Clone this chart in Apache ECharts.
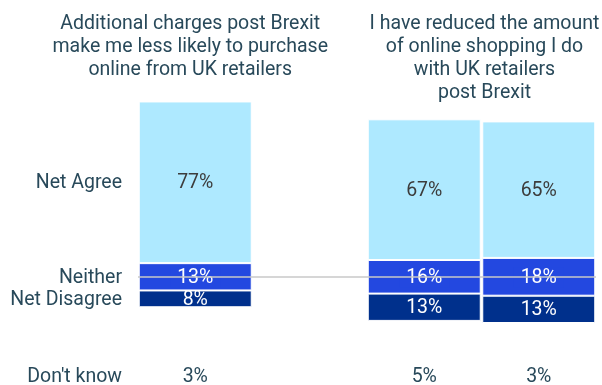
<!DOCTYPE html>
<html>
<head>
<meta charset="utf-8">
<script src="https://cdn.jsdelivr.net/npm/echarts@6/dist/echarts.min.js"></script>
<style>
  html, body { margin: 0; padding: 0; background: #ffffff; }
  #chart { width: 602px; height: 385px; }
</style>
</head>
<body>
<div id="chart"></div>
<script>
// Statement columns (the second slot is an empty spacer between the two groups)
const bars = ['charges', 'spacer', 'reduced-a', 'reduced-b'];
const netAgree = [77, null, 67, 65];
const neither = [13, null, 16, 18];
const netDisagree = [8, null, 13, 13];
const dontKnow = [3, null, 5, 3];
const rowLabels = ['Net Agree', 'Neither', 'Net Disagree', "Don't know"];
const groupTitles = [
  'Additional charges post Brexit\nmake me less likely to purchase\nonline from UK retailers',
  'I have reduced the amount\nof online shopping I do\nwith UK retailers\npost Brexit'
];

// Every bar is centred on the middle of its "Neither" segment at this value
const MID = 100;
const Y_MIN = 60;
const Y_MAX = 200;

const FONT = 'Roboto, "Open Sans", sans-serif';
const FS = 19.5;
const NUDGE = 1; // small downward shift so glyphs sit on the segment centres
const TEXT = '#28495a';
const C_AGREE = '#aee9ff';
const C_NEITHER = '#2348e0';
const C_DISAGREE = '#00308c';

const blank = v => (v == null ? '-' : v);
const baseVals = bars.map((_, i) => neither[i] == null ? '-' : MID - neither[i] / 2 - netDisagree[i]);
const lblBaseVals = bars.map((_, i) => neither[i] == null ? '-' : MID - neither[i] / 2);
const pct = p => p.value + '%';

const chart = echarts.init(document.getElementById('chart'), null, { renderer: 'canvas' });

const common = {
  type: 'bar',
  barWidth: 113,
  barGap: '-100%',
  silent: true,
  itemStyle: { borderColor: '#ffffff', borderWidth: 1 }
};
const valueLabel = (color, extra) => Object.assign({
  show: true, position: 'inside', formatter: pct,
  color: color, fontFamily: FONT, fontSize: FS, offset: [0, NUDGE]
}, extra || {});

chart.setOption({
  animation: false,
  grid: { left: 138, right: 6, top: 66.8, bottom: 24.2, containLabel: false, outerBoundsMode: 'none' },
  xAxis: {
    type: 'category',
    data: bars,
    axisLine: { show: false },
    axisTick: { show: false },
    axisLabel: {
      margin: 6,
      fontFamily: FONT,
      fontSize: FS,
      color: TEXT,
      formatter: (v, i) => dontKnow[i] == null ? '' : dontKnow[i] + '%'
    }
  },
  yAxis: { type: 'value', min: Y_MIN, max: Y_MAX, show: false },
  series: [
    Object.assign({}, common, {
      name: 'base', stack: 'm', z: 3,
      data: baseVals,
      itemStyle: { color: 'transparent', borderWidth: 0 },
      markLine: {
        silent: true,
        symbol: 'none',
        label: { show: false },
        lineStyle: { color: '#c8c8c8', width: 1.5, type: 'solid' },
        data: [{ yAxis: MID }]
      }
    }),
    Object.assign({}, common, {
      name: 'Net Disagree', stack: 'm', z: 2,
      data: netDisagree.map(blank),
      itemStyle: { color: C_DISAGREE, borderColor: '#ffffff', borderWidth: 1 },
      label: valueLabel('#ffffff')
    }),
    Object.assign({}, common, {
      name: 'Neither', stack: 'm', z: 2,
      data: neither.map(blank),
      itemStyle: { color: C_NEITHER, borderColor: '#ffffff', borderWidth: 1 }
    }),
    Object.assign({}, common, {
      name: 'Net Agree', stack: 'm', z: 2,
      data: netAgree.map(blank),
      itemStyle: { color: C_AGREE, borderColor: '#ffffff', borderWidth: 1 },
      label: valueLabel('#3c3c3c')
    }),
    // Label layer for "Neither", drawn above the centre line
    Object.assign({}, common, {
      name: 'lblBase', stack: 'l', z: 4,
      data: lblBaseVals,
      itemStyle: { color: 'transparent', borderWidth: 0 }
    }),
    Object.assign({}, common, {
      name: 'lblNeither', stack: 'l', z: 4,
      data: neither.map(blank),
      itemStyle: { color: 'transparent', borderWidth: 0 },
      label: valueLabel('#ffffff', { backgroundColor: C_NEITHER, padding: [0, 7] })
    })
  ]
});

// Row labels aligned to the first column's segments, group titles above the columns
const toY = v => chart.convertToPixel({ xAxisIndex: 0, yAxisIndex: 0 }, [0, v])[1];
const toX = i => chart.convertToPixel({ xAxisIndex: 0, yAxisIndex: 0 }, [i, MID])[0];
const b0 = baseVals[0];
const rowY = [
  toY(b0 + netDisagree[0] + neither[0] + netAgree[0] / 2) + NUDGE,
  toY(MID) + NUDGE,
  toY(b0 + netDisagree[0] / 2) + NUDGE,
  toY(Y_MIN) + 16
];
const titleX = [toX(0) - 5, (toX(2) + toX(3)) / 2 + 3];

const graphics = rowLabels.map((t, i) => ({
  type: 'text',
  silent: true,
  style: {
    text: t, x: 122, y: rowY[i],
    align: 'right', verticalAlign: 'middle',
    font: FS + 'px ' + FONT, fill: TEXT
  }
}));
groupTitles.forEach((t, i) => {
  graphics.push({
    type: 'text',
    silent: true,
    style: {
      text: t, x: titleX[i], y: 12.5,
      align: 'center', verticalAlign: 'top',
      font: FS + 'px ' + FONT, lineHeight: 23, fill: TEXT
    }
  });
});
chart.setOption({ graphic: graphics });
</script>
</body>
</html>
